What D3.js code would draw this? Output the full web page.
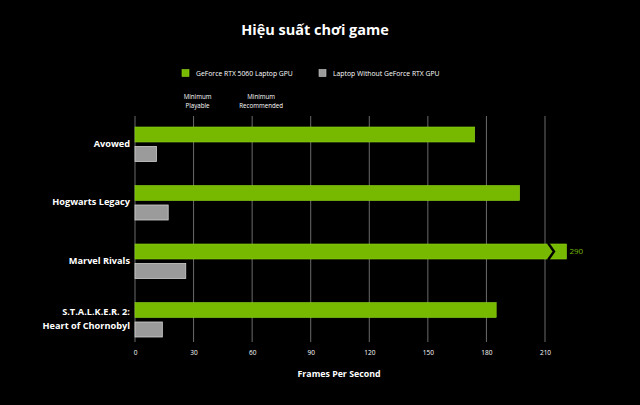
<!DOCTYPE html>
<html>
<head>
  <meta charset="utf-8">
  <title>Hiệu suất chơi game</title>
  <script src="https://cdn.jsdelivr.net/npm/d3@7"></script>
  <style>
    body { margin: 0; background: #000; }
    svg { display: block; font-family: "Open Sans", "DejaVu Sans", sans-serif; }
  </style>
</head>
<body>
<svg id="chart"></svg>
<script>
  var games = ["Avowed", "Hogwarts Legacy", "Marvel Rivals", "S.T.A.L.K.E.R. 2:\nHeart of Chornobyl"];
  var rtx5060 = [174, 197, 290, 185];
  var withoutRtx = [11, 17, 26, 14];
  var seriesNames = ["GeForce RTX 5060 Laptop GPU", "Laptop Without GeForce RTX GPU"];
  var ticks = [0, 30, 60, 90, 120, 150, 180, 210];
  var marks = [{v: 30, text: ["Minimum", "Playable"]}, {v: 60, text: ["Minimum", "Recommended"]}];
  var axisMax = 210, breakLen = 221;   // bars above axisMax get cut and drawn to breakLen

  var width = 640, height = 405;
  var green = "#76b900", grey = "#9b9b9b";

  var svg = d3.select("#chart").attr("width", width).attr("height", height);
  svg.append("rect").attr("width", width).attr("height", height).attr("fill", "#000");

  var x = d3.scaleLinear().domain([0, axisMax]).range([135, 545]);
  var y = d3.scaleBand().domain(games).range([127, 361]).paddingInner(0).paddingOuter(0);
  var barH = 15, gap = 4.5;

  // title + legend
  svg.append("text").attr("x", 315).attr("y", 35).attr("text-anchor", "middle")
    .attr("fill", "#fff").attr("font-size", 14.5).attr("font-weight", "bold")
    .text("Hiệu suất chơi game");

  var legend = svg.append("g").attr("transform", "translate(182,73)");
  var lx = [0, 137];
  seriesNames.forEach(function(n, i) {
    var g = legend.append("g").attr("transform", "translate(" + lx[i] + ",0)");
    g.append("rect").attr("x", 0).attr("y", -3.5).attr("width", 7).attr("height", 7)
      .attr("fill", i ? grey : green).attr("stroke", i ? "#c8c8c8" : "#8fd21a").attr("stroke-width", 0.6);
    g.append("text").attr("x", 14).attr("y", 2.5).attr("fill", "#fff")
      .attr("font-size", 6.8).text(n);
  });

  // grid
  var grid = svg.append("g");
  grid.selectAll("line").data(ticks).join("line")
    .attr("x1", d => x(d)).attr("x2", d => x(d))
    .attr("y1", 116).attr("y2", 342)
    .attr("stroke", "#6a6a6a").attr("stroke-width", 1);

  // axis labels
  var axis = svg.append("g").attr("transform", "translate(0,342)")
    .call(d3.axisBottom(x).tickValues(ticks).tickSize(0).tickPadding(8));
  axis.select(".domain").remove();
  axis.selectAll("text").attr("fill", "#fff").attr("font-size", 6.5)
    .attr("font-family", "'Open Sans', sans-serif");

  svg.append("text").attr("x", 339).attr("y", 377).attr("text-anchor", "middle")
    .attr("fill", "#fff").attr("font-size", 8.8).attr("font-weight", "bold")
    .text("Frames Per Second");

  // threshold notes
  var notes = svg.append("g");
  marks.forEach(function(m, i) {
    var t = notes.append("text").attr("x", x(m.v) + (i ? 9 : 4)).attr("y", 99)
      .attr("text-anchor", "middle").attr("fill", "#fff").attr("font-size", 6.2);
    m.text.forEach(function(s, j) {
      t.append("tspan").attr("x", x(m.v) + (i ? 9 : 4)).attr("dy", j ? 8.8 : 0).text(s);
    });
  });

  // bars
  var rows = svg.append("g").selectAll("g").data(games).join("g")
    .attr("transform", d => "translate(0," + y(d) + ")");

  rows.append("rect")
    .attr("x", x(0)).attr("y", 0)
    .attr("width", (d, i) => x(Math.min(rtx5060[i], breakLen)) - x(0))
    .attr("height", barH)
    .attr("fill", green).attr("stroke", "#8fd21a").attr("stroke-width", 0.6);

  rows.append("rect")
    .attr("x", x(0)).attr("y", barH + gap)
    .attr("width", (d, i) => x(withoutRtx[i]) - x(0))
    .attr("height", barH)
    .attr("fill", grey).attr("stroke", "#cfcfcf").attr("stroke-width", 0.8);

  // axis break for bars beyond the scale
  rows.filter((d, i) => rtx5060[i] > axisMax).each(function(d) {
    var g = d3.select(this), v = rtx5060[games.indexOf(d)];
    var cx = x(axisMax) + 3;
    g.append("path")
      .attr("d", "M" + cx + ",-1 L" + (cx + 6) + "," + (barH / 2) + " L" + cx + "," + (barH + 1))
      .attr("fill", "none").attr("stroke", "#000").attr("stroke-width", 2.4);
    g.append("text").attr("x", x(breakLen) + 3).attr("y", barH / 2 + 2.8)
      .attr("fill", green).attr("font-size", 8).text(v);
  });

  // category labels
  rows.append("text")
    .attr("text-anchor", "end").attr("fill", "#fff")
    .attr("font-size", 9.2).attr("font-weight", "bold")
    .each(function(d) {
      var lines = d.split("\n"), t = d3.select(this);
      var y0 = lines.length > 1 ? 12.5 : 19.8;
      lines.forEach(function(s, j) {
        t.append("tspan").attr("x", 130).attr("y", y0 + j * 14.3).text(s);
      });
    });
</script>
</body>
</html>
